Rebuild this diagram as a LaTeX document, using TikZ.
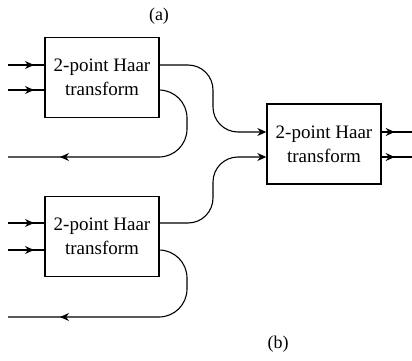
\documentclass[tikz,border=0pt]{standalone}
\usepackage{fontspec}
\setmainfont{Liberation Serif}
\newfontfamily\haarfont{Liberation Serif}
\usetikzlibrary{arrows.meta,decorations.markings}
\tikzset{
	haar/.style={draw,line width=1.4pt,minimum width=114pt,minimum height=80pt,align=center,inner sep=0pt,font=\haarfont\fontsize{19}{24}\selectfont},
	wire/.style={line width=1.1pt},
	tip/.style={-{Stealth[length=9pt,width=8pt]}},
	flowto/.style={postaction={decorate},decoration={markings,mark=at position #1 with {\arrow{Stealth[length=9pt,width=8pt]}}}}
}
\begin{document}
\begin{tikzpicture}[x=1pt,y=-1pt]
	\useasboundingbox (0,0) rectangle (412,361);
	% haar blocks
	\node[haar] (h1) at (102,77.5) {2-point Haar\\transform};
	\node[haar] (h2) at (102,236.5) {2-point Haar\\transform};
	\node[haar] (h3) at (324,144) {2-point Haar\\transform};
	% labels
	\node[font=\haarfont\fontsize{18}{22}\selectfont] (la) at (159,16) {(a)};
	\node[font=\haarfont\fontsize{18}{22}\selectfont] (lb) at (278,344) {(b)};
	% inputs
	\foreach \y [count=\i] in {65,90,223,250}
	{
		\coordinate (in\i) at (8,\y);
		\draw[wire,flowto=26pt] (in\i) -- (in\i -| h1.west);
	}
	% outputs
	\foreach \y [count=\i] in {132,157}
	{
		\coordinate (out\i) at (412,\y);
		\draw[wire,flowto=13pt] (out\i -| h3.east) -- (out\i);
	}
	% to second stage
	\draw[wire,tip,rounded corners=25pt] (h1.east |- in1) -- (213,65) -- (213,132) -- (h3.west |- out1);
	\draw[wire,tip,rounded corners=25pt] (h2.east |- in3) -- (213,223) -- (213,157) -- (h3.west |- out2);
	% fed back
	\coordinate (back1) at (8,157);
	\coordinate (back2) at (8,317);
	\draw[wire,rounded corners=28pt,flowto=-52pt] (h1.east |- in2) -- (187,90) -- (187,157) -- (back1);
	\draw[wire,rounded corners=28pt,flowto=-52pt] (h2.east |- in4) -- (187,250) -- (187,317) -- (back2);
\end{tikzpicture}
\end{document}
